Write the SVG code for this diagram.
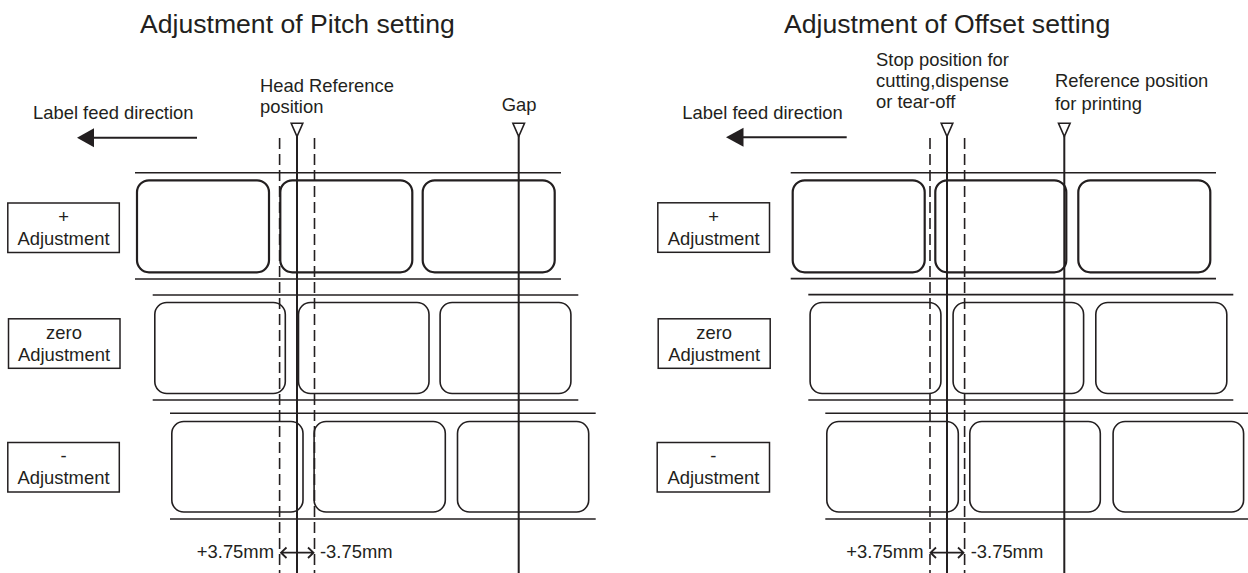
<svg xmlns="http://www.w3.org/2000/svg" width="1248" height="573" viewBox="0 0 1248 573">
<style>
text{font-family:"Liberation Sans",Arial,sans-serif;fill:#231f20}
.title{font-size:26.6px}
.t{font-size:18.4px}
.c{text-anchor:middle}
.e{text-anchor:end}
.strip{stroke:#231f20;stroke-width:1.6;fill:none}
.lab1{fill:#fff;stroke:#231f20;stroke-width:2.2}
.lab{fill:#fff;stroke:#231f20;stroke-width:1.6}
.box{fill:#fff;stroke:#231f20;stroke-width:1.5}
.vl{stroke:#231f20;stroke-width:2;fill:none}
.dash{stroke:#231f20;stroke-width:1.6;stroke-dasharray:11 5;fill:none}
.tri{fill:#fff;stroke:#231f20;stroke-width:1.6;stroke-linejoin:miter}
.arr{stroke:#231f20;stroke-width:2;fill:none}
.dbl{stroke:#231f20;stroke-width:1.8;fill:none}
</style>

<!-- LEFT PANEL -->
<g id="title-pitch"><text class="title" x="140" y="33">Adjustment of Pitch setting</text></g>

<g id="feed-left">
<text class="t" x="33" y="119">Label feed direction</text>
<line class="arr" x1="197" y1="137.7" x2="90" y2="137.7"/>
<polygon points="77,137.7 94,128.2 94,147.2" fill="#231f20"/>
</g>

<g id="strip-plus-left">
<line class="strip" x1="135" y1="172.7" x2="561" y2="172.7"/>
<line class="strip" x1="135" y1="279" x2="561" y2="279"/>
<rect class="lab1" x="137" y="180.3" width="132" height="92" rx="12"/>
<rect class="lab1" x="280.3" y="180.3" width="132" height="92" rx="12"/>
<rect class="lab1" x="422.7" y="180.3" width="132" height="92" rx="12"/>
</g>

<g id="strip-zero-left">
<line class="strip" x1="152.7" y1="295" x2="578.3" y2="295"/>
<line class="strip" x1="152.7" y1="400" x2="578.3" y2="400"/>
<rect class="lab" x="154.8" y="302.5" width="130.5" height="91" rx="12"/>
<rect class="lab" x="298.5" y="302.5" width="130.5" height="91" rx="12"/>
<rect class="lab" x="440.1" y="302.5" width="130.8" height="91" rx="12"/>
</g>

<g id="strip-minus-left">
<line class="strip" x1="170" y1="413.3" x2="595.7" y2="413.3"/>
<line class="strip" x1="170" y1="519" x2="595.7" y2="519"/>
<rect class="lab" x="171.8" y="421.5" width="131.2" height="90.5" rx="12"/>
<rect class="lab" x="314.1" y="421.5" width="131.2" height="90.5" rx="12"/>
<rect class="lab" x="457.5" y="421.5" width="131.2" height="90.5" rx="12"/>
</g>

<g id="box-plus-left">
<rect class="box" x="7.8" y="203" width="111.5" height="49.5"/>
<text class="t c" x="63.5" y="223">+</text>
<text class="t c" x="63.5" y="245">Adjustment</text>
</g>
<g id="box-zero-left">
<rect class="box" x="8.5" y="318.8" width="111.5" height="49.5"/>
<text class="t c" x="64" y="339">zero</text>
<text class="t c" x="64" y="361">Adjustment</text>
</g>
<g id="box-minus-left">
<rect class="box" x="7.8" y="442.5" width="111.5" height="49.5"/>
<text class="t c" x="63.5" y="462">-</text>
<text class="t c" x="63.5" y="483.5">Adjustment</text>
</g>

<g id="head-ref-left">
<text class="t" x="260" y="91.7">Head Reference</text>
<text class="t" x="260" y="113.3">position</text>
<line class="vl" x1="297" y1="136" x2="297" y2="573"/>
<polygon class="tri" points="291.2,123.2 302.8,123.2 297,136.5"/>
<line class="dash" x1="279.6" y1="138" x2="279.6" y2="573"/>
<line class="dash" x1="314.5" y1="138" x2="314.5" y2="573"/>
</g>

<g id="gap-left">
<text class="t" x="501.7" y="110.7">Gap</text>
<line class="vl" x1="518.7" y1="136" x2="518.7" y2="573"/>
<polygon class="tri" points="512.9,123.2 524.5,123.2 518.7,136.5"/>
</g>

<g id="dim-left">
<text class="t e" x="274" y="558.3">+3.75mm</text>
<text class="t" x="320" y="558.3">-3.75mm</text>
</g>

<!-- RIGHT PANEL -->
<g id="title-offset"><text class="title" x="784" y="33">Adjustment of Offset setting</text></g>

<g id="feed-right">
<text class="t" x="682.3" y="119.3">Label feed direction</text>
<line class="arr" x1="846.7" y1="137.3" x2="740" y2="137.3"/>
<polygon points="726,137.3 743.5,127.8 743.5,146.8" fill="#231f20"/>
</g>

<g id="strip-plus-right">
<line class="strip" x1="790.7" y1="172.7" x2="1216" y2="172.7"/>
<line class="strip" x1="790.7" y1="278.6" x2="1216" y2="278.6"/>
<rect class="lab1" x="792.7" y="180.3" width="132" height="92" rx="12"/>
<rect class="lab1" x="935.3" y="180.3" width="131" height="92" rx="12"/>
<rect class="lab1" x="1078.3" y="180.3" width="132" height="92" rx="12"/>
</g>

<g id="strip-zero-right">
<line class="strip" x1="808.3" y1="294.6" x2="1233.3" y2="294.6"/>
<line class="strip" x1="808.3" y1="400" x2="1233.3" y2="400"/>
<rect class="lab" x="810.1" y="302.5" width="130.8" height="91" rx="12"/>
<rect class="lab" x="953.1" y="302.5" width="130.5" height="91" rx="12"/>
<rect class="lab" x="1095.8" y="302.5" width="131" height="91" rx="12"/>
</g>

<g id="strip-minus-right">
<line class="strip" x1="825.3" y1="413.3" x2="1248" y2="413.3"/>
<line class="strip" x1="825.3" y1="519" x2="1248" y2="519"/>
<rect class="lab" x="826.8" y="421.5" width="131.5" height="90.5" rx="12"/>
<rect class="lab" x="969.8" y="421.5" width="130.5" height="90.5" rx="12"/>
<rect class="lab" x="1113.1" y="421.5" width="130.5" height="90.5" rx="12"/>
</g>

<g id="box-plus-right">
<rect class="box" x="657.8" y="202.8" width="111.7" height="49.5"/>
<text class="t c" x="713.7" y="223">+</text>
<text class="t c" x="713.7" y="245">Adjustment</text>
</g>
<g id="box-zero-right">
<rect class="box" x="658.2" y="318.8" width="112" height="49.5"/>
<text class="t c" x="714.2" y="339">zero</text>
<text class="t c" x="714.2" y="361">Adjustment</text>
</g>
<g id="box-minus-right">
<rect class="box" x="657.2" y="442.5" width="112.3" height="49.5"/>
<text class="t c" x="713.4" y="462">-</text>
<text class="t c" x="713.4" y="483.5">Adjustment</text>
</g>

<g id="stop-right">
<text class="t" x="876" y="66">Stop position for</text>
<text class="t" x="876" y="87.3">cutting,dispense</text>
<text class="t" x="876" y="108.3">or tear-off</text>
<line class="vl" x1="947" y1="136" x2="947" y2="573"/>
<polygon class="tri" points="941.2,123.2 952.8,123.2 947,136.5"/>
<line class="dash" x1="930" y1="138" x2="930" y2="573"/>
<line class="dash" x1="964.6" y1="138" x2="964.6" y2="573"/>
</g>

<g id="refpos-right">
<text class="t" x="1055" y="87.3">Reference position</text>
<text class="t" x="1055" y="109.7">for printing</text>
<line class="vl" x1="1064.3" y1="136" x2="1064.3" y2="573"/>
<polygon class="tri" points="1058.5,123.2 1070.1,123.2 1064.3,136.5"/>
</g>

<g id="dim-right">
<text class="t e" x="923.5" y="558.3">+3.75mm</text>
<text class="t" x="970.7" y="558.3">-3.75mm</text>
</g>

<g id="connectors">
<path class="dbl" d="M281,552.7 H313.5 M286.5,547.5 L281,552.7 L286.5,558 M308,547.5 L313.5,552.7 L308,558"/>
<path class="dbl" d="M930.5,552.7 H963.5 M936,547.5 L930.5,552.7 L936,558 M958,547.5 L963.5,552.7 L958,558"/>
</g>
</svg>
